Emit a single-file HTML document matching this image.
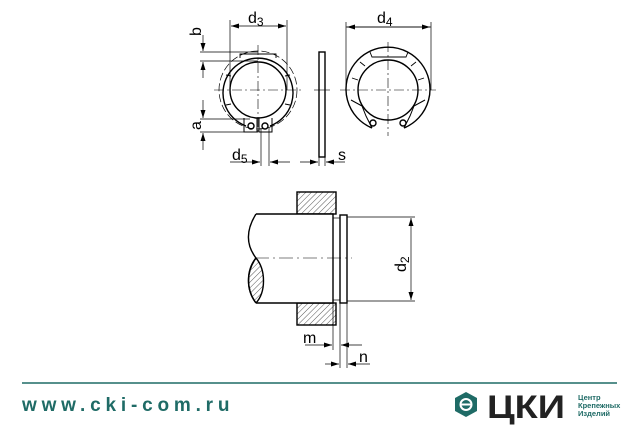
<!DOCTYPE html>
<html><head><meta charset="utf-8"><style>
html,body{margin:0;padding:0;background:#fff;width:639px;height:425px;overflow:hidden}
</style></head><body>
<svg width="639" height="425" viewBox="0 0 639 425" xmlns="http://www.w3.org/2000/svg" font-family="Liberation Sans, sans-serif">
<defs>
<marker id="ar" markerWidth="8" markerHeight="6" refX="8" refY="3" orient="auto" markerUnits="userSpaceOnUse"><path d="M0,0.5 L8,3 L0,5.5z" fill="#000"/></marker>
<pattern id="h" width="4" height="4" patternUnits="userSpaceOnUse" patternTransform="rotate(45)"><line x1="0" y1="0" x2="0" y2="4" stroke="#555" stroke-width="1"/></pattern>
</defs>
<g stroke="#000" fill="none" stroke-width="1.4">
<circle cx="258" cy="90" r="28"/>
<path d="M246,126 A35,35 0 1 1 270,126"/>
<circle cx="258" cy="90" r="39" stroke-dasharray="8,3" stroke-width="0.7"/>
<path d="M240,58 L240,54 L276,54 L276,58" stroke-width="0.9"/>
<path d="M226,75 L231,76 M226,105 L231,104 M290,75 L285,76 M290,105 L285,104" stroke-width="0.9"/>
<path d="M244,118 L244,132 L257,132 L257,118 M259,118 L259,132 L272,132 L272,118" stroke-width="1"/>
<circle cx="251" cy="126" r="3"/><circle cx="265" cy="126" r="3"/>
<line x1="214" y1="90" x2="302" y2="90" stroke-width="0.6" stroke-dasharray="10,3,2,3"/>
<line x1="258" y1="45" x2="258" y2="135" stroke-width="0.6" stroke-dasharray="10,3,2,3"/>
<line x1="230" y1="20" x2="230" y2="90" stroke-width="0.7"/>
<line x1="287" y1="20" x2="287" y2="90" stroke-width="0.7"/>
<line x1="258" y1="26" x2="231" y2="26" stroke-width="0.7" marker-end="url(#ar)"/>
<line x1="258" y1="26" x2="286" y2="26" stroke-width="0.7" marker-end="url(#ar)"/>
<line x1="200" y1="52" x2="258" y2="52" stroke-width="0.7"/>
<line x1="200" y1="61" x2="258" y2="61" stroke-width="0.7"/>
<line x1="203" y1="35" x2="203" y2="51" stroke-width="0.7" marker-end="url(#ar)"/>
<line x1="203" y1="78" x2="203" y2="62" stroke-width="0.7" marker-end="url(#ar)"/>
<line x1="200" y1="119" x2="250" y2="119" stroke-width="0.7"/>
<line x1="200" y1="132" x2="258" y2="132" stroke-width="0.7"/>
<line x1="203" y1="100" x2="203" y2="118" stroke-width="0.7" marker-end="url(#ar)"/>
<line x1="203" y1="150" x2="203" y2="133" stroke-width="0.7" marker-end="url(#ar)"/>
<line x1="261" y1="128" x2="261" y2="166" stroke-width="0.7"/>
<line x1="269" y1="128" x2="269" y2="166" stroke-width="0.7"/>
<line x1="230" y1="162" x2="260" y2="162" stroke-width="0.7" marker-end="url(#ar)"/>
<line x1="290" y1="162" x2="270" y2="162" stroke-width="0.7" marker-end="url(#ar)"/>
<rect x="319" y="52" width="6" height="105"/>
<line x1="314" y1="90" x2="330" y2="90" stroke-width="0.6"/>
<line x1="319" y1="157" x2="319" y2="166" stroke-width="0.7"/>
<line x1="325" y1="157" x2="325" y2="166" stroke-width="0.7"/>
<line x1="300" y1="162" x2="318" y2="162" stroke-width="0.7" marker-end="url(#ar)"/>
<line x1="345" y1="162" x2="326" y2="162" stroke-width="0.7" marker-end="url(#ar)"/>
<circle cx="388" cy="90" r="30"/>
<path d="M372,128 A42,42 0 1 1 404,128" />
<path d="M351,100 L362,106 M425,100 L414,106" stroke-width="1"/>
<path d="M362,106 L366,116 L372,128 M414,106 L410,116 L404,128" stroke-width="1"/>
<path d="M352,78 L358,80 M424,78 L418,80 M360,62 L365,66 M416,62 L411,66" stroke-width="0.9"/>
<circle cx="373" cy="123" r="3"/><circle cx="403" cy="123" r="3"/>
<path d="M370,52 L372,57 L406,57 L408,52" stroke-width="0.9"/>
<line x1="340" y1="90" x2="436" y2="90" stroke-width="0.6" stroke-dasharray="10,3,2,3"/>
<line x1="388" y1="42" x2="388" y2="136" stroke-width="0.6" stroke-dasharray="10,3,2,3"/>
<line x1="346" y1="22" x2="346" y2="90" stroke-width="0.7"/>
<line x1="431" y1="22" x2="431" y2="90" stroke-width="0.7"/>
<line x1="346" y1="27" x2="430" y2="27" stroke-width="0.7" marker-end="url(#ar)"/>
<line x1="431" y1="27" x2="347" y2="27" stroke-width="0.7" marker-end="url(#ar)"/>
<rect x="297" y="192" width="39" height="22" fill="url(#h)"/>
<rect x="297" y="303" width="39" height="22" fill="url(#h)"/>
<path d="M256,214 L333,214 L333,303 L256,303" fill="#fff"/>
<path d="M256,214 C246,230 246,245 256,258 C246,272 246,290 256,303"/>
<path d="M256,258 C266,270 266,292 256,303" fill="url(#h)"/>
<path d="M256,258 C246,270 246,290 256,303" fill="url(#h)"/>
<rect x="340" y="215" width="7" height="88" fill="#fff"/>
<line x1="333" y1="218" x2="340" y2="218" stroke-width="0.7"/>
<line x1="333" y1="300" x2="340" y2="300" stroke-width="0.7"/>
<line x1="255" y1="258" x2="352" y2="258" stroke-width="0.6" stroke-dasharray="14,4,2,4"/>
<line x1="347" y1="217" x2="415" y2="217" stroke-width="0.7"/>
<line x1="347" y1="301" x2="415" y2="301" stroke-width="0.7"/>
<line x1="411" y1="259" x2="411" y2="218" stroke-width="0.7" marker-end="url(#ar)"/>
<line x1="411" y1="259" x2="411" y2="300" stroke-width="0.7" marker-end="url(#ar)"/>
<line x1="333" y1="303" x2="333" y2="350" stroke-width="0.7"/>
<line x1="340" y1="303" x2="340" y2="368" stroke-width="0.7"/>
<line x1="347" y1="303" x2="347" y2="368" stroke-width="0.7"/>
<line x1="305" y1="345" x2="332" y2="345" stroke-width="0.7" marker-end="url(#ar)"/>
<line x1="362" y1="345" x2="341" y2="345" stroke-width="0.7" marker-end="url(#ar)"/>
<line x1="325" y1="364" x2="339" y2="364" stroke-width="0.7" marker-end="url(#ar)"/>
<line x1="370" y1="364" x2="348" y2="364" stroke-width="0.7" marker-end="url(#ar)"/>
</g>
<g fill="#000" font-size="16">
<text x="248" y="23">d<tspan font-size="12" dy="3">3</tspan></text>
<text x="377" y="23">d<tspan font-size="12" dy="3">4</tspan></text>
<text x="232" y="160">d<tspan font-size="12" dy="3">5</tspan></text>
<text x="338" y="160">s</text>
<text x="303" y="343">m</text>
<text x="359" y="362">n</text>
<text transform="translate(201,36) rotate(-90)">b</text>
<text transform="translate(201,130) rotate(-90)">a</text>
<text transform="translate(406,272) rotate(-90)">d<tspan font-size="12" dy="3">2</tspan></text>
</g>
<line x1="22" y1="383" x2="617" y2="383" stroke="#1f6b66" stroke-width="1.5"/>
<text x="22" y="411" font-size="19" font-weight="bold" fill="#1f6b66" letter-spacing="4.5" textLength="212" lengthAdjust="spacing">www.cki-com.ru</text>
<polygon points="466,392 477,398 477,411 466,417 455,411 455,398" fill="#1f6b66"/>
<circle cx="466" cy="404.5" r="6.5" fill="#fff"/>
<circle cx="466" cy="404.5" r="4.5" fill="#1f6b66"/>
<rect x="461" y="403.5" width="10" height="2" fill="#fff"/>
<text x="487" y="418" font-size="32" font-weight="bold" fill="#222" textLength="78" lengthAdjust="spacingAndGlyphs">ЦКИ</text>
<g font-size="7.5" fill="#1f6b66" font-weight="bold"><text x="578" y="400">Центр</text><text x="578" y="408">Крепежных</text><text x="578" y="416">Изделий</text></g>
</svg>
</body></html>
